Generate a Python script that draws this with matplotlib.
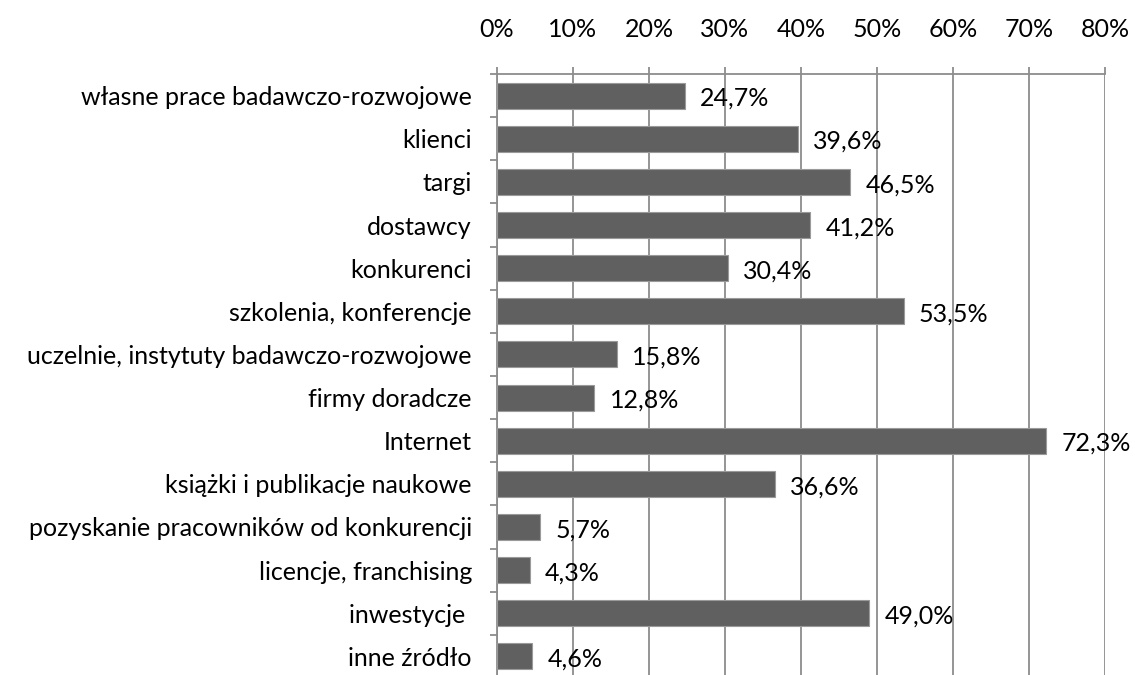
import matplotlib.pyplot as plt
import numpy as np

categories = [
    "własne prace badawczo-rozwojowe",
    "klienci",
    "targi",
    "dostawcy",
    "konkurenci",
    "szkolenia, konferencje",
    "uczelnie, instytuty badawczo-rozwojowe",
    "firmy doradcze",
    "Internet",
    "książki i publikacje naukowe",
    "pozyskanie pracowników od konkurencji",
    "licencje, franchising",
    "inwestycje ",
    "inne źródło",
]
values = [24.7, 39.6, 46.5, 41.2, 30.4, 53.5, 15.8, 12.8, 72.3, 36.6, 5.7, 4.3, 49.0, 4.6]
xticks = [0, 10, 20, 30, 40, 50, 60, 70, 80]

plt.rcParams['font.family'] = ['Lato', 'DejaVu Sans']
grid_col = "#8c8c8c"
fs = 18

fig = plt.figure(figsize=(11.35, 6.75), dpi=100)
ax = fig.add_axes([497 / 1135, -3 / 675, 608 / 1135, 604 / 675])

y = np.arange(len(categories))
ax.barh(y, values, height=0.6, color="#606060", edgecolor="#9a9a9a", linewidth=0.8, zorder=3)

for yi, v in zip(y, values):
    ax.annotate(f"{v:.1f}%".replace(".", ","), (v, yi), xytext=(11, -2),
                textcoords="offset points", va="center", ha="left", fontsize=fs)

ax.set_xlim(0, 80)
ax.set_ylim(len(categories) - 0.5, -0.5)
ax.set_xticks(xticks)
ax.set_xticklabels([f"{t}%" for t in xticks], fontsize=fs)
ax.xaxis.tick_top()
ax.tick_params(axis="x", which="major", length=5, color=grid_col, width=1.3, pad=19)
ax.xaxis.grid(True, color=grid_col, linewidth=1.3, zorder=0)

ax.set_yticks(y)
ax.set_yticklabels(categories, fontsize=fs)
ax.set_yticks(np.arange(len(categories) + 1) - 0.5, minor=True)
ax.tick_params(axis="y", which="major", length=0, pad=18)
ax.tick_params(axis="y", which="minor", length=5, color=grid_col, width=1.3)

for s in ["right", "bottom"]:
    ax.spines[s].set_visible(False)
for s in ["top", "left"]:
    ax.spines[s].set_color(grid_col)
    ax.spines[s].set_linewidth(1.3)

fig.savefig("out.png", dpi=100)
